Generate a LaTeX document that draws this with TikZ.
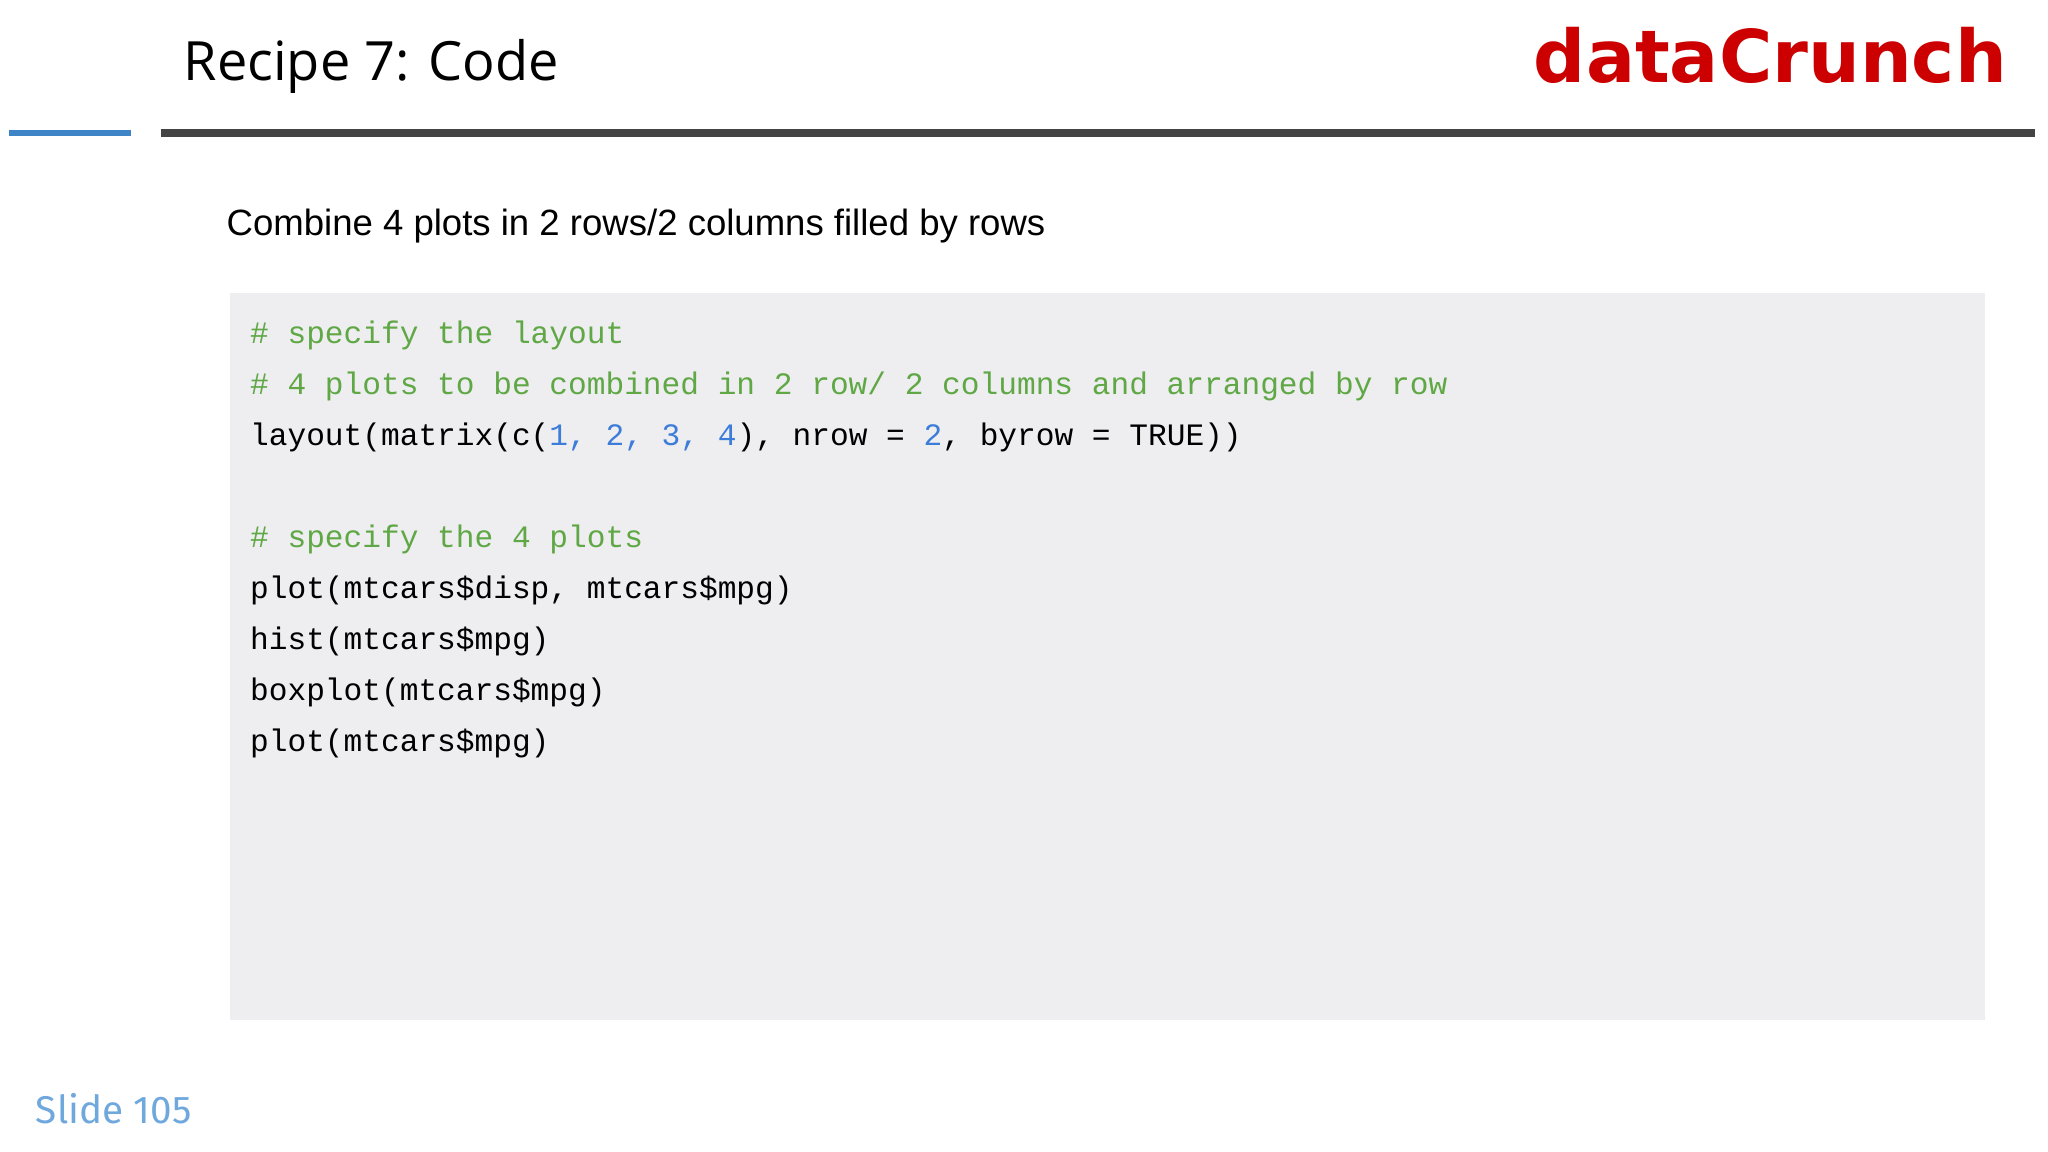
\documentclass[tikz,border=0pt]{standalone}
\usepackage{fontspec}
\setmainfont{Liberation Sans}
\newfontfamily\titlefont{Open Sans}
\newfontfamily\brandfont{DejaVu Sans}
\newfontfamily\codefont{Liberation Mono}
\newfontfamily\slidefont{Fira Sans}
\definecolor{cmt}{HTML}{5FA845}
\definecolor{num}{HTML}{3C7DD9}
\definecolor{brand}{HTML}{CC0000}
\definecolor{boxbg}{HTML}{EEEDF0}
\definecolor{bar}{HTML}{444444}
\definecolor{blueline}{HTML}{3D85C6}
\definecolor{slidec}{HTML}{6FA8DC}
\tikzset{code/.style={anchor=base west,inner sep=0pt,font=\codefont\fontsize{8.87pt}{10pt}\selectfont}}
\begin{document}
\begin{tikzpicture}[x=0.01306cm,y=-0.01306cm]
\useasboundingbox (0,0) rectangle (1568,882);
\fill[white] (0,0) rectangle (1568,882);
\node[anchor=base west,inner sep=0pt,font=\titlefont\fontsize{15.4pt}{18pt}\selectfont] (title) at (140,62) {Recipe 7: Code};
\node[anchor=base east,inner sep=0pt,text=brand,font=\brandfont\bfseries\fontsize{20.7pt}{24pt}\selectfont] (brand) at (1537,63) {dataCrunch};
\draw[blueline,line width=5*0.3716pt] (7,102) -- (100,102);
\draw[bar,line width=6*0.3716pt] (123,102) -- (1558,102);
\node[anchor=base west,inner sep=0pt,font=\fontsize{10.4pt}{12pt}\selectfont] (sub) at (173,180) {Combine 4 plots in 2 rows/2 columns filled by rows};
\fill[boxbg] (176,224) rectangle (1520,781);
\node[code,text=cmt] (l1) at (191,263) {\# specify the layout};
\node[code,text=cmt] (l2) at (191,302) {\# 4 plots to be combined in 2 row/ 2 columns and arranged by row};
\node[code] (l3) at (191,341) {layout(matrix(c(\textcolor{num}{1, 2, 3, 4}), nrow = \textcolor{num}{2}, byrow = TRUE))};
\node[code,text=cmt] (l4) at (191,419) {\# specify the 4 plots};
\node[code] (l5) at (191,458) {plot(mtcars\$disp, mtcars\$mpg)};
\node[code] (l6) at (191,497) {hist(mtcars\$mpg)};
\node[code] (l7) at (191,536) {boxplot(mtcars\$mpg)};
\node[code] (l8) at (191,575) {plot(mtcars\$mpg)};
\node[anchor=base west,inner sep=0pt,text=slidec,font=\slidefont\fontsize{11pt}{13pt}\selectfont] (slide) at (27,860) {Slide 105};
\end{tikzpicture}
\end{document}
